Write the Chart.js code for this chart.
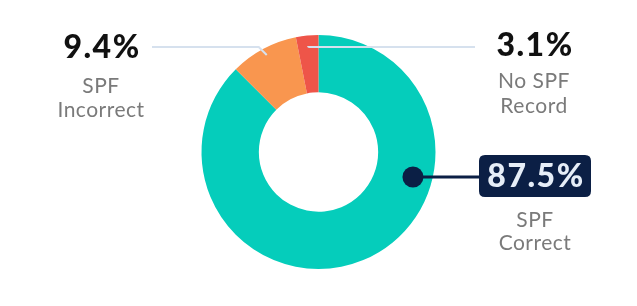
<!DOCTYPE html>
<html>
<head>
<meta charset="utf-8">
<script src="https://cdn.jsdelivr.net/npm/chart.js@4/dist/chart.umd.min.js"></script>
<style>
  html, body { margin: 0; padding: 0; background: #fff; }
  #wrap { width: 637px; height: 306px; position: relative; }
</style>
</head>
<body>
<div id="wrap"><canvas id="spfChart"></canvas></div>
<script>
// chart data
const categories = ['SPF Correct', 'SPF Incorrect', 'No SPF Record'];
const shares = [87.5, 9.4, 3.1];
const captionLines = [['SPF', 'Correct'], ['SPF', 'Incorrect'], ['No SPF', 'Record']];
const sliceColors = ['#05CDBB', '#F9964F', '#EE5549'];

// callout layout per slice (angle in degrees from 12 o'clock, radius as fraction of outer radius)
const callouts = [
    { angle: 104.8, radius: 0.835, textX: 535, pctBase: 187, capBase: [227, 250], boxed: true },
    { angle: null, radius: 0.94, textX: 101, pctBase: 58, capBase: [93, 117], lineY: 47, lineEnd: 152, elbow: 8 },
    { angle: null, radius: 0.90, textX: 534, pctBase: 56, capBase: [88, 113], lineY: 47, lineEnd: 475, elbow: 0 }
];

const FONT = 'Lato, "Noto Sans", sans-serif';

function roundRect(ctx, x, y, w, h, r) {
    ctx.beginPath();
    ctx.moveTo(x + r, y);
    ctx.lineTo(x + w - r, y);
    ctx.quadraticCurveTo(x + w, y, x + w, y + r);
    ctx.lineTo(x + w, y + h - r);
    ctx.quadraticCurveTo(x + w, y + h, x + w - r, y + h);
    ctx.lineTo(x + r, y + h);
    ctx.quadraticCurveTo(x, y + h, x, y + h - r);
    ctx.lineTo(x, y + r);
    ctx.quadraticCurveTo(x, y, x + r, y);
    ctx.closePath();
}

const calloutPlugin = {
    id: 'callouts',
    afterDraw(chart) {
        const ctx = chart.ctx;
        const meta = chart.getDatasetMeta(0);
        ctx.save();
        meta.data.forEach((arc, i) => {
            const c = callouts[i];
            const props = arc.getProps(['x', 'y', 'startAngle', 'endAngle', 'outerRadius']);
            const a = c.angle === null
                ? (props.startAngle + props.endAngle) / 2
                : -Math.PI / 2 + c.angle * Math.PI / 180;
            const r = props.outerRadius * c.radius;
            const px = props.x + Math.cos(a) * r;
            const py = props.y + Math.sin(a) * r;
            const pct = shares[i].toFixed(1) + '%';

            ctx.textAlign = 'center';
            ctx.textBaseline = 'alphabetic';
            ctx.font = '900 32px ' + FONT;
            ctx.letterSpacing = '1.5px';

            if (c.boxed) {
                const w = 112;
                const bx = c.textX - w / 2;
                // connector + dot
                ctx.strokeStyle = '#0B1F45';
                ctx.lineWidth = 3;
                ctx.beginPath();
                ctx.moveTo(px, py);
                ctx.lineTo(bx + 2, py);
                ctx.stroke();
                ctx.fillStyle = '#0B1F45';
                ctx.beginPath();
                ctx.arc(px, py, 10.5, 0, Math.PI * 2);
                ctx.fill();
                roundRect(ctx, bx, 155, w, 42, 6);
                ctx.fill();
                ctx.fillStyle = '#E6EEF8';
                ctx.fillText(pct, c.textX + 1, c.pctBase);
            } else {
                ctx.strokeStyle = '#D6E1EE';
                ctx.lineWidth = 2;
                ctx.beginPath();
                ctx.moveTo(px, py);
                const dir = c.lineEnd < px ? -1 : 1;
                ctx.lineTo(px + dir * c.elbow, c.lineY);
                ctx.lineTo(c.lineEnd, c.lineY);
                ctx.stroke();
                ctx.fillStyle = '#111111';
                ctx.fillText(pct, c.textX + 1, c.pctBase);
            }

            ctx.font = '21px ' + FONT;
            ctx.letterSpacing = '0.5px';
            ctx.fillStyle = '#7A7A7A';
            captionLines[i].forEach((line, j) => {
                ctx.fillText(line, c.textX, c.capBase[j]);
            });
        });
        ctx.restore();
    }
};

new Chart(document.getElementById('spfChart'), {
    type: 'doughnut',
    data: {
        labels: categories,
        datasets: [{
            data: shares,
            backgroundColor: sliceColors,
            borderWidth: 0
        }]
    },
    options: {
        responsive: true,
        maintainAspectRatio: false,
        animation: false,
        cutout: '51%',
        layout: { padding: { top: 35, bottom: 37 } },
        plugins: {
            legend: { display: false },
            tooltip: { enabled: false }
        }
    },
    plugins: [calloutPlugin]
});
</script>
</body>
</html>
